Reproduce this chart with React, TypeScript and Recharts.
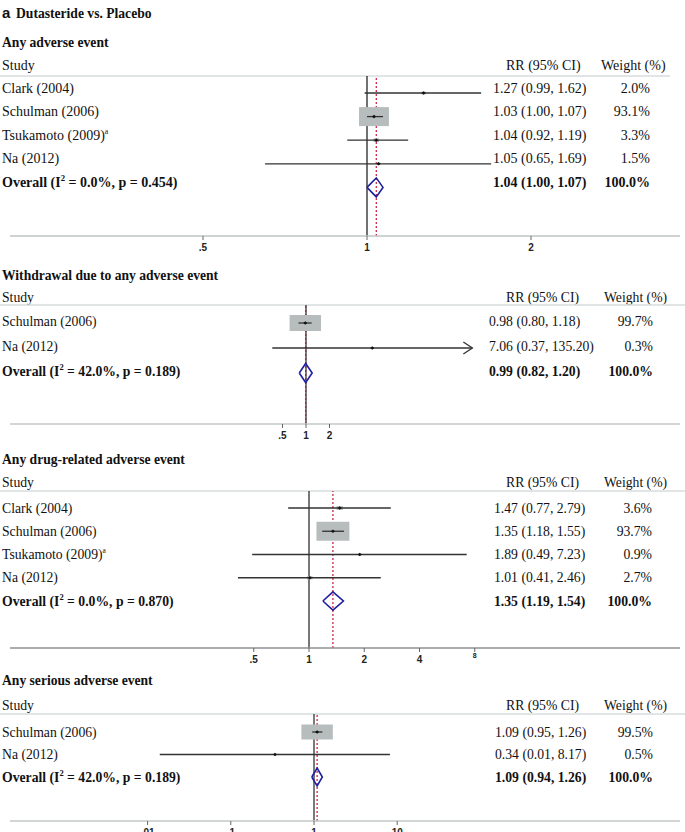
import React from 'react';
import { ComposedChart, Scatter, XAxis, YAxis, ReferenceLine } from 'recharts';

const SERIF = '"Liberation Serif", "Times New Roman", serif';
const SANS = '"Liberation Sans", Arial, sans-serif';

const mainTitleLetter = 'a';
const mainTitle = 'Dutasteride vs. Placebo';
const headStudy = 'Study';
const headRR = 'RR (95% CI)';
const headWeight = 'Weight (%)';

// ---------- Panel 1: Any adverse event ----------
const aeTitle = 'Any adverse event';
const aeStudies = ['Clark (2004)', 'Schulman (2006)', 'Tsukamoto (2009)', 'Na (2012)'];
const aeNotes = ['', '', 'a', ''];
const aeRR = [1.27, 1.03, 1.04, 1.05];
const aeLow = [0.99, 1.0, 0.92, 0.65];
const aeHigh = [1.62, 1.07, 1.19, 1.69];
const aeWeight = [2.0, 93.1, 3.3, 1.5];
const aePooled = [1.04, 1.0, 1.07];
const aeHet = ['0.0%', '0.454'];
const aeTicks = [0.5, 1, 2];
const aeTickLabels = ['.5', '1', '2'];
const aeArrow = [false, false, false, false];

// ---------- Panel 2: Withdrawal due to any adverse event ----------
const wdTitle = 'Withdrawal due to any adverse event';
const wdStudies = ['Schulman (2006)', 'Na (2012)'];
const wdNotes = ['', ''];
const wdRR = [0.98, 7.06];
const wdLow = [0.8, 0.37];
const wdHigh = [1.18, 135.2];
const wdWeight = [99.7, 0.3];
const wdPooled = [0.99, 0.82, 1.2];
const wdHet = ['42.0%', '0.189'];
const wdTicks = [0.5, 1, 2];
const wdTickLabels = ['.5', '1', '2'];
const wdArrow = [false, true];

// ---------- Panel 3: Any drug-related adverse event ----------
const drTitle = 'Any drug-related adverse event';
const drStudies = ['Clark (2004)', 'Schulman (2006)', 'Tsukamoto (2009)', 'Na (2012)'];
const drNotes = ['', '', 'a', ''];
const drRR = [1.47, 1.35, 1.89, 1.01];
const drLow = [0.77, 1.18, 0.49, 0.41];
const drHigh = [2.79, 1.55, 7.23, 2.46];
const drWeight = [3.6, 93.7, 0.9, 2.7];
const drPooled = [1.35, 1.19, 1.54];
const drHet = ['0.0%', '0.870'];
const drTicks = [0.5, 1, 2, 4, 8];
const drTickLabels = ['.5', '1', '2', '4', '8'];
const drArrow = [false, false, false, false];

// ---------- Panel 4: Any serious adverse event ----------
const saTitle = 'Any serious adverse event';
const saStudies = ['Schulman (2006)', 'Na (2012)'];
const saNotes = ['', ''];
const saRR = [1.09, 0.34];
const saLow = [0.95, 0.014];
const saHigh = [1.26, 8.17];
const saWeight = [99.5, 0.5];
const saPooled = [1.09, 0.94, 1.26];
const saHet = ['42.0%', '0.189'];
const saTicks = [0.01, 0.1, 1, 10];
const saTickLabels = ['.01', '.1', '1', '10'];
const saArrow = [false, false];

const panels = [
  { title: aeTitle, studies: aeStudies, notes: aeNotes, rr: aeRR, low: aeLow, high: aeHigh, weight: aeWeight, pooled: aePooled, het: aeHet, ticks: aeTicks, tickLabels: aeTickLabels, arrow: aeArrow },
  { title: wdTitle, studies: wdStudies, notes: wdNotes, rr: wdRR, low: wdLow, high: wdHigh, weight: wdWeight, pooled: wdPooled, het: wdHet, ticks: wdTicks, tickLabels: wdTickLabels, arrow: wdArrow },
  { title: drTitle, studies: drStudies, notes: drNotes, rr: drRR, low: drLow, high: drHigh, weight: drWeight, pooled: drPooled, het: drHet, ticks: drTicks, tickLabels: drTickLabels, arrow: drArrow },
  { title: saTitle, studies: saStudies, notes: saNotes, rr: saRR, low: saLow, high: saHigh, weight: saWeight, pooled: saPooled, het: saHet, ticks: saTicks, tickLabels: saTickLabels, arrow: saArrow },
];

// ---------- layout (pixels) ----------
const W = 685;
const H = 832;
const PLOT_X1 = 10;
const PLOT_X2 = 680;
const AXIS_H = 30;
const YAX_W = 1;

const layouts = [
  { titleY: 42, headerY: 65, lineY: 76, lineX2: 670, m0: 93, step: 23.6, textDy: -5, axisY: 236, oneX: 367, ppu: 164, base: 2, rrX: 493, wX: 650, rrHeadX: 506, wHeadX: 601, boxW: 31, boxH: 19.7, dH: 9.5, font: 14, nullColor: '#111', nullW: 1.2, axisColor: '#bfc4c4' },
  { titleY: 275, headerY: 297, lineY: 305, lineX2: 685, m0: 323, step: 25, textDy: -2, axisY: 424, oneX: 306, ppu: 23.5, base: 2, rrX: 489, wX: 653, rrHeadX: 506, wHeadX: 604, boxW: 31.5, boxH: 16, dH: 9.5, font: 13.7, nullColor: '#222', nullW: 1.2, axisColor: '#c4c9c9' },
  { titleY: 459, headerY: 482, lineY: 491, lineX2: 685, m0: 508, step: 23.25, textDy: 0, axisY: 648, oneX: 309, ppu: 55.25, base: 2, rrX: 494, wX: 652, rrHeadX: 506, wHeadX: 604, boxW: 34, boxH: 19.6, dH: 9.2, font: 13.7, nullColor: '#555', nullW: 1.6, axisColor: '#8e9292' },
  { titleY: 680, headerY: 705, lineY: 714, lineX2: 685, m0: 732, step: 22.5, textDy: 0, axisY: 821, oneX: 314, ppu: 83.2, base: 10, rrX: 495, wX: 653, rrHeadX: 506, wHeadX: 604, boxW: 31.5, boxH: 15, dH: 9, font: 13.7, nullColor: '#222', nullW: 1.2, axisColor: '#c4c9c9' },
];

const fmtCI = (r: number, l: number, h: number) => `${r.toFixed(2)} (${l.toFixed(2)}, ${h.toFixed(2)})`;

function RowTick(props: any) {
  const { y, payload, d, L } = props;
  const i = Math.round(payload.value);
  const n = d.studies.length;
  const ty = y + L.textDy;
  const fs = L.font;
  const base = { fontFamily: SERIF, fontSize: fs, fill: '#111' } as any;
  const dy = fs * 0.33;
  if (i < n) {
    return (
      <g>
        <text x={2} y={ty} dy={dy} {...base}>
          {d.studies[i]}
          {d.notes[i] ? <tspan dy={-fs * 0.42} fontSize={fs * 0.55}>{d.notes[i]}</tspan> : null}
        </text>
        <text x={L.rrX} y={ty} dy={dy} {...base}>{fmtCI(d.rr[i], d.low[i], d.high[i])}</text>
        <text x={L.wX} y={ty} dy={dy} textAnchor="end" {...base}>{d.weight[i].toFixed(1) + '%'}</text>
      </g>
    );
  }
  return (
    <g>
      <text x={2} y={ty} dy={dy} {...base} fontWeight="bold">
        {'Overall (I'}
        <tspan dy={-fs * 0.4} fontSize={fs * 0.62}>2</tspan>
        <tspan dy={fs * 0.4}>{` = ${d.het[0]}, p = ${d.het[1]})`}</tspan>
      </text>
      <text x={L.rrX} y={ty} dy={dy} {...base} fontWeight="bold">{fmtCI(d.pooled[0], d.pooled[1], d.pooled[2])}</text>
      <text x={L.wX} y={ty} dy={dy} textAnchor="end" {...base} fontWeight="bold">{'100.0%'}</text>
    </g>
  );
}

function AxisTick(props: any) {
  const { x, y, payload, d } = props;
  const idx = d.ticks.findIndex((t: number) => Math.abs(t - payload.value) < 1e-9 * Math.max(1, t));
  const label = idx >= 0 ? d.tickLabels[idx] : '';
  const small = label === '8';
  return (
    <text x={x} y={y} dy={small ? 4 : 8.5} textAnchor="middle" fontFamily={SANS} fontWeight="bold" fontSize={small ? 7 : 10} fill="#222">
      {label}
    </text>
  );
}

function ForestPanel({ d, L }: any) {
  const n = d.studies.length;
  const lo = Math.pow(L.base, (PLOT_X1 - L.oneX) / L.ppu);
  const hi = Math.pow(L.base, (PLOT_X2 - L.oneX) / L.ppu);
  const vTop = (L.lineY - L.m0) / L.step;
  const vBot = (L.axisY - L.m0) / L.step;
  const plotH = L.axisY - L.lineY;
  const rows = d.studies.map((_: string, i: number) => ({ x: d.rr[i], y: i, w: d.weight[i] }));
  const ciSegments = d.studies.map((_: string, i: number) => [
    { x: d.low[i], y: i },
    { x: d.high[i], y: i },
  ]);
  const arrows = d.studies
    .map((_: string, i: number) => ({ x: d.high[i], y: i, on: d.arrow[i] }))
    .filter((a: any) => a.on);
  const dh = L.dH / L.step;
  const diamond = [
    { x: d.pooled[1], y: n },
    { x: d.pooled[0], y: n - dh },
    { x: d.pooled[2], y: n },
    { x: d.pooled[0], y: n + dh },
    { x: d.pooled[1], y: n },
  ];
  const yTicks = Array.from({ length: n + 1 }, (_, i) => i);

  const boxShape = (p: any) => {
    const f = Math.sqrt(p.payload.w / 100);
    const bw = L.boxW * f;
    const bh = L.boxH * f;
    return <rect x={p.cx - bw / 2} y={p.cy - bh / 2} width={bw} height={bh} fill="#b7bdbd" />;
  };
  const dotShape = (p: any) => (
    <path d={`M${p.cx - 2},${p.cy} L${p.cx},${p.cy - 1.8} L${p.cx + 2},${p.cy} L${p.cx},${p.cy + 1.8} Z`} fill="#111" />
  );
  const arrowShape = (p: any) => (
    <path d={`M${p.cx - 9},${p.cy - 6} L${p.cx},${p.cy} L${p.cx - 9},${p.cy + 6}`} fill="none" stroke="#333" strokeWidth={1.3} />
  );
  const noShape = () => <g />;

  return (
    <div style={{ position: 'absolute', left: 0, top: L.lineY }}>
      <ComposedChart
        width={W}
        height={plotH + AXIS_H}
        margin={{ top: 0, right: W - PLOT_X2, bottom: 0, left: PLOT_X1 - YAX_W }}
      >
        <XAxis
          dataKey="x"
          type="number"
          scale="log"
          domain={[lo, hi]}
          allowDataOverflow
          ticks={d.ticks}
          interval={0}
          height={AXIS_H}
          tickSize={4}
          axisLine={{ stroke: L.axisColor, strokeWidth: 1.6 }}
          tickLine={{ stroke: '#666', strokeWidth: 1 }}
          tick={(p: any) => <AxisTick {...p} d={d} />}
        />
        <YAxis
          dataKey="y"
          type="number"
          domain={[vTop, vBot]}
          reversed
          allowDataOverflow
          width={YAX_W}
          ticks={yTicks}
          interval={0}
          axisLine={false}
          tickLine={false}
          tick={(p: any) => <RowTick {...p} d={d} L={L} />}
        />
        <Scatter data={rows} shape={boxShape} isAnimationActive={false} />
        <ReferenceLine x={1} stroke={L.nullColor} strokeWidth={L.nullW} />
        <ReferenceLine x={d.pooled[0]} stroke="#c8143c" strokeWidth={1.2} strokeDasharray="2 2" />
        {ciSegments.map((seg: any, i: number) => (
          <Scatter
            key={'ci' + i}
            data={seg}
            line={{ stroke: '#333', strokeWidth: 1.3 }}
            lineType="joint"
            shape={noShape}
            isAnimationActive={false}
          />
        ))}
        <Scatter data={rows} shape={dotShape} isAnimationActive={false} />
        {arrows.length > 0 ? <Scatter data={arrows} shape={arrowShape} isAnimationActive={false} /> : null}
        <Scatter
          data={diamond}
          line={{ stroke: '#2020a0', strokeWidth: 1.6 }}
          lineType="joint"
          shape={noShape}
          isAnimationActive={false}
        />
      </ComposedChart>
    </div>
  );
}

function Overlay() {
  return (
    <svg width={W} height={H} style={{ position: 'absolute', left: 0, top: 0 }}>
      <text x={2} y={17.5} fontFamily={SANS} fontWeight="bold" fontSize={15} fill="#111">{mainTitleLetter}</text>
      <text x={16} y={17.5} fontFamily={SERIF} fontWeight="bold" fontSize={13.6} fill="#111">{mainTitle}</text>
      {panels.map((d, k) => {
        const L = layouts[k];
        const dy = L.font * 0.33;
        return (
          <g key={k}>
            <text x={2} y={L.titleY + dy} fontFamily={SERIF} fontWeight="bold" fontSize={13.6} fill="#111">{d.title}</text>
            <text x={2} y={L.headerY + dy} fontFamily={SERIF} fontSize={L.font} fill="#111">{headStudy}</text>
            <text x={L.rrHeadX} y={L.headerY + dy} fontFamily={SERIF} fontSize={L.font} fill="#111">{headRR}</text>
            <text x={L.wHeadX} y={L.headerY + dy} fontFamily={SERIF} fontSize={L.font} fill="#111">{headWeight}</text>
            <line x1={0} x2={L.lineX2} y1={L.lineY} y2={L.lineY} stroke="#d9dddd" strokeWidth={1.3} />
          </g>
        );
      })}
    </svg>
  );
}

export default function App() {
  return (
    <div style={{ position: 'absolute', left: 0, top: 0, width: W, height: H, overflow: 'hidden', background: '#fff' }}>
      <Overlay />
      {panels.map((d, k) => (
        <ForestPanel key={k} d={d} L={layouts[k]} />
      ))}
    </div>
  );
}
